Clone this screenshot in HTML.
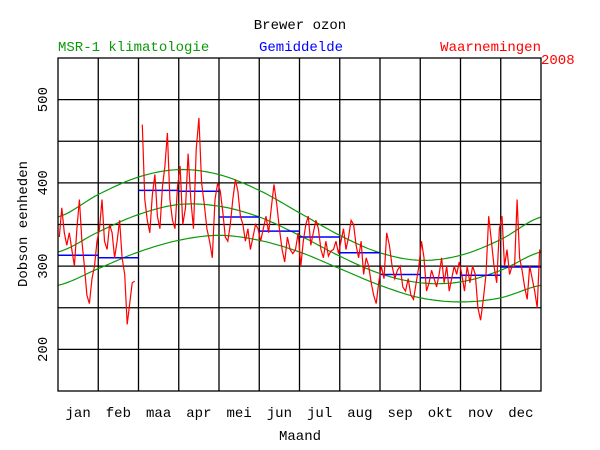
<!DOCTYPE html>
<html><head><meta charset="utf-8"><style>
html,body{margin:0;padding:0;background:#fff;}
svg{display:block;font-family:"Liberation Mono",monospace;font-size:14px;}
</style></head><body>
<svg id="chart" width="600" height="450" viewBox="0 0 600 450">
<text x="300" y="29" text-anchor="middle" fill="#000">Brewer ozon</text>
<text x="58" y="51" fill="#0a9a0a">MSR-1 klimatologie</text>
<text x="301" y="51" text-anchor="middle" fill="#0000ff">Gemiddelde</text>
<text x="541" y="51" text-anchor="end" fill="#ff0000">Waarnemingen</text>
<text x="541" y="64" fill="#ff0000">2008</text>
<g id="grid"></g>
<g id="clim"></g>
<g id="means"></g>
<g id="obs"></g>
<rect x="58" y="58" width="483" height="333" fill="none" stroke="#000" stroke-width="1.3"/>
<g id="ylabels"></g>
<g id="xlabels"></g>
<text transform="translate(27,224) rotate(-90)" text-anchor="middle">Dobson eenheden</text>
<text x="300" y="440" text-anchor="middle">Maand</text>
</svg>
<script>
const months=["jan","feb","maa","apr","mei","jun","jul","aug","sep","okt","nov","dec"];
const yTicks=[200,300,400,500];
const climUpper=[359,386,407,416,410,391,364,337,316,307,313,332,359];
const climMiddle=[317,341,362,374,372,359,337,312,291,280,281,295,317];
const climLower=[277,297,317,331,337,331,317,297,277,262,257,262,277];
const monthlyMean=[313,310,391,390,359,342,335,316,290,286,289,299];
const obsJan=[335,370,340,325,340,320,300,345,380,330,300,265,255,285,300,330];
const obsFeb=[345,380,330,320,350,340,310,330,355,310,290,230,255,280,282,null];
const obsMar=[null,470,380,355,340,385,410,360,345,395,420,460,380,355,345,395];
const obsApr=[420,350,370,435,380,345,440,478,400,375,345,330,310,380,400];
const obsMay=[390,365,335,330,350,380,404,390,360,350,330,345,320,335,350,345];
const obsJun=[330,345,360,340,370,398,375,345,320,305,335,320,315,320,340];
const obsJul=[300,330,350,360,325,340,355,345,320,310,330,312,318,320,330,315];
const obsAug=[330,345,320,335,355,350,325,310,330,290,310,300,280,265,255,280];
const obsSep=[300,285,340,325,300,285,295,300,275,270,285,265,260,280,300];
const obsOct=[330,310,270,280,295,285,275,290,310,280,300,270,285,300,290,305];
const obsNov=[290,270,300,280,300,290,250,235,260,290,360,330,300,280,345];
const obsDec=[360,300,320,290,300,300,380,310,295,275,260,300,285,270,250,320];
const obsMonths=[obsJan,obsFeb,obsMar,obsApr,obsMay,obsJun,obsJul,obsAug,obsSep,obsOct,obsNov,obsDec];

const X0=58,X1=541,Y0=391,Y1=58,VMIN=150,VMAX=550;
const mw=(X1-X0)/12;
function xm(m){return X0+m*mw;}
function yv(v){return Y0-(v-VMIN)/(VMAX-VMIN)*(Y0-Y1);}
const NS="http://www.w3.org/2000/svg";
function mk(tag,attrs,parent){const e=document.createElementNS(NS,tag);for(const k in attrs)e.setAttribute(k,attrs[k]);parent.appendChild(e);return e;}

const grid=document.getElementById('grid');
for(let m=1;m<12;m++){
  const l=mk('line',{x1:xm(m),x2:xm(m),y1:Y1,y2:Y0,stroke:'#000','stroke-width':1.3},grid);
  
  
}
for(let v=200;v<=500;v+=50){
  const l=mk('line',{x1:X0,x2:X1,y1:yv(v),y2:yv(v),stroke:'#000','stroke-width':1.3},grid);
  
  
}
const yl=document.getElementById('ylabels');
yTicks.forEach(v=>{
  const t=mk('text',{transform:`translate(47,${yv(v)}) rotate(-90)`,'text-anchor':'middle'},yl);
  t.textContent=v;
  
  
});
const xl=document.getElementById('xlabels');
months.forEach((n,i)=>{
  const t=mk('text',{x:xm(i+0.5),y:417,'text-anchor':'middle'},xl);
  t.textContent=n;
  
  
});
// climatology curves (smooth cosine-like interpolation through month boundary nodes)
const clim=document.getElementById('clim');
[climUpper,climMiddle,climLower].forEach((arr,ci)=>{
  let d='';
  for(let m=0;m<12;m++){
    for(let s=0;s<=10;s++){
      const t=s/10;
      const p0=arr[Math.max(m-1,0)],p1=arr[m],p2=arr[m+1],p3=arr[Math.min(m+2,12)];
      const v=0.5*((2*p1)+(-p0+p2)*t+(2*p0-5*p1+4*p2-p3)*t*t+(-p0+3*p1-3*p2+p3)*t*t*t);
      d+=(d?'L':'M')+xm(m+t).toFixed(1)+','+yv(v).toFixed(1);
    }
  }
  const p=mk('path',{d:d,fill:'none',stroke:'#0a9a0a','stroke-width':1.2},clim);
  
  
});
const means=document.getElementById('means');
monthlyMean.forEach((v,i)=>{
  const l=mk('line',{x1:xm(i),x2:xm(i+1),y1:yv(v),y2:yv(v),stroke:'#0000ff','stroke-width':1.5},means);
  
  
});
const obs=document.getElementById('obs');
let d='',pen=false;
obsMonths.forEach((arr,m)=>{
  arr.forEach((v,i)=>{
    if(v===null){pen=false;return;}
    const x=xm(m+(i+0.5)/arr.length);
    d+=(pen?'L':'M')+x.toFixed(1)+','+yv(v).toFixed(1);
    pen=true;
  });
});
const op=mk('path',{d:d,fill:'none',stroke:'#ff0000','stroke-width':1.2},obs);


</script>
</body></html>
